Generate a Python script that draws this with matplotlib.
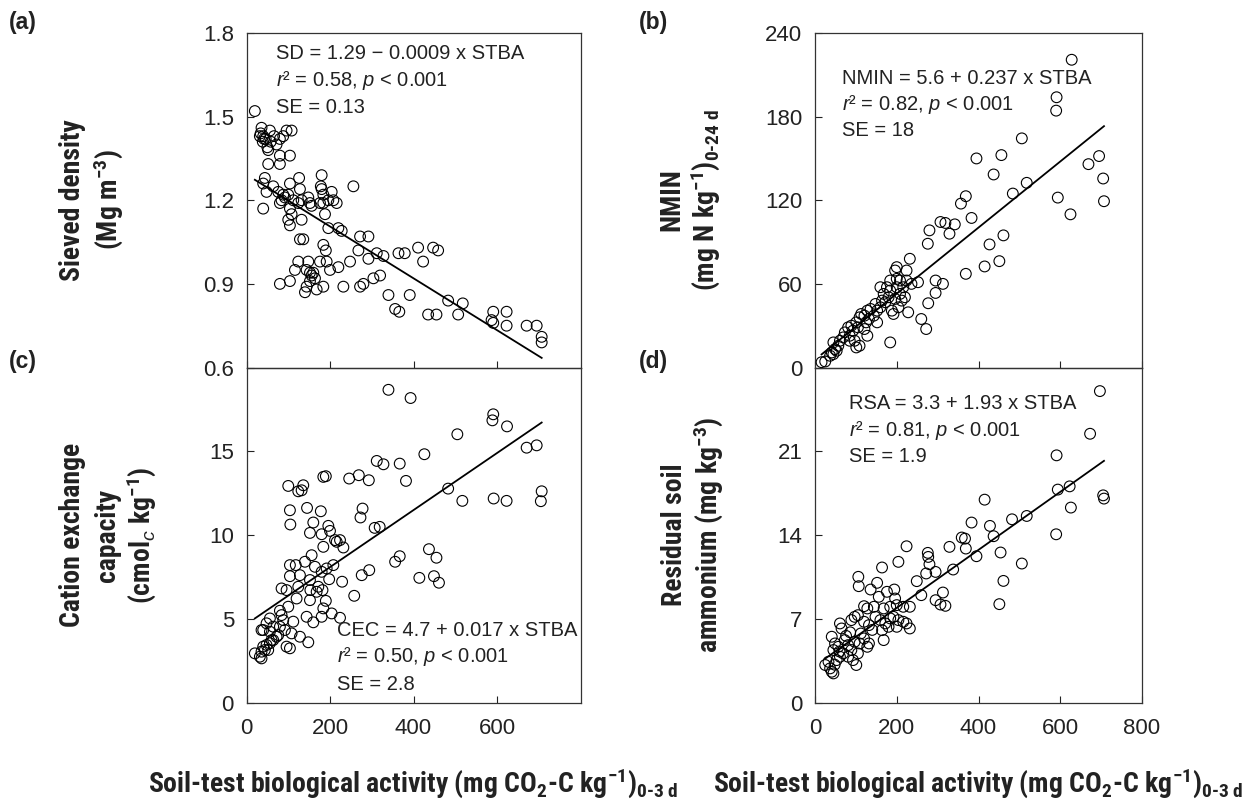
import numpy as np
import matplotlib
matplotlib.use('Agg')
import matplotlib.pyplot as plt
from matplotlib import font_manager as fm

# ---------------- data ----------------
# (a) sieved density vs STBA
sd_x = [20, 36, 56, 108, 96, 40, 32, 42, 39, 88, 80, 72, 52, 80, 104, 80, 52, 44, 180, 126,
        40, 64, 104, 128, 178, 180, 184, 204, 208, 256, 48, 76, 88, 84, 80, 92, 100, 112, 124, 132,
        148, 152, 176, 184, 196, 216, 40, 104, 108, 100, 132, 156, 188, 104, 196, 220, 228, 128, 136, 184,
        190, 272, 292, 268, 292, 312, 328, 364, 379, 411, 447, 459, 423, 124, 148, 176, 192, 116, 144, 152,
        160, 156, 164, 200, 220, 248, 152, 144, 140, 168, 184, 80, 104, 232, 272, 280, 304, 320, 340, 391,
        356, 366, 435, 455, 483, 518, 507, 591, 623, 591, 587, 623, 671, 695, 707, 707,
        46, 58, 34, 50, 66]
sd_y = [1.52, 1.46, 1.45, 1.45, 1.45, 1.43, 1.43, 1.42, 1.41, 1.43, 1.42, 1.40, 1.38, 1.36, 1.36, 1.33, 1.33, 1.28, 1.29, 1.28,
        1.26, 1.25, 1.26, 1.24, 1.25, 1.24, 1.22, 1.23, 1.20, 1.25, 1.23, 1.23, 1.22, 1.20, 1.19, 1.21, 1.22, 1.20, 1.19, 1.20,
        1.21, 1.19, 1.19, 1.19, 1.20, 1.19, 1.17, 1.17, 1.15, 1.13, 1.13, 1.18, 1.15, 1.11, 1.10, 1.10, 1.09, 1.06, 1.06, 1.04,
        1.02, 1.07, 1.07, 1.02, 0.99, 1.01, 1.00, 1.01, 1.01, 1.03, 1.03, 1.02, 0.98, 0.98, 0.98, 0.98, 0.98, 0.95, 0.95, 0.94,
        0.94, 0.93, 0.92, 0.95, 0.96, 0.98, 0.91, 0.89, 0.87, 0.88, 0.89, 0.90, 0.91, 0.89, 0.89, 0.90, 0.92, 0.93, 0.86, 0.86,
        0.81, 0.80, 0.79, 0.79, 0.84, 0.83, 0.79, 0.80, 0.80, 0.76, 0.77, 0.75, 0.75, 0.75, 0.71, 0.69,
        1.42, 1.41, 1.44, 1.39, 1.43]

# (b) NMIN vs STBA
nm_x = [628, 591, 590, 506, 395, 456, 437, 669, 695, 705, 707, 594, 625, 518, 484, 369, 357, 383, 280, 276,
        307, 319, 329, 342, 427, 461, 415, 451, 369, 295, 313, 295, 277, 260, 272, 232, 224, 200, 196, 236,
        252, 184, 25, 37, 41, 45, 49, 53, 57, 45, 61, 69, 73, 81, 89, 85, 93, 101, 105, 109,
        113, 121, 125, 128, 132, 136, 144, 148, 152, 160, 164, 168, 172, 176, 180, 184, 188, 192, 196, 200,
        204, 208, 212, 216, 220, 228, 224, 101, 109, 97, 85, 128, 121, 152, 160, 184, 200, 208, 16]
nm_y = [220.8, 193.9, 184.3, 164.4, 150.0, 152.4, 138.5, 145.9, 151.7, 135.6, 119.3, 121.9, 109.9, 132.5, 124.8, 122.9, 117.6, 107.3, 98.4, 88.8,
        104.4, 103.7, 96.0, 102.7, 88.3, 94.8, 72.5, 76.3, 67.2, 62.4, 60.0, 53.5, 46.1, 34.8, 27.6, 78.0, 69.6, 72.0, 69.6, 60.0,
        61.2, 18.0, 4.3, 8.4, 10.8, 9.6, 13.2, 12.0, 15.6, 18.0, 19.2, 21.6, 25.2, 28.8, 30.0, 22.8, 26.4, 32.4, 28.8, 36.0,
        38.4, 37.2, 32.4, 40.8, 34.8, 42.0, 37.2, 45.6, 40.8, 43.2, 48.0, 52.8, 46.8, 57.6, 50.4, 55.2, 40.8, 38.4, 49.2, 57.6,
        43.2, 52.8, 48.0, 57.6, 50.4, 39.6, 62.4, 14.4, 15.6, 19.2, 19.2, 22.8, 27.6, 32.4, 57.6, 62.4, 63.6, 62.4, 3.8]

# (c) cation exchange capacity vs STBA
cec_x = [340, 393, 591, 589, 624, 505, 671, 695, 426, 312, 328, 367, 382, 184, 190, 246, 269, 293, 100, 136,
         132, 124, 483, 517, 592, 623, 707, 705, 104, 145, 178, 278, 273, 105, 160, 196, 307, 319, 152, 180,
         200, 212, 216, 224, 232, 184, 156, 104, 118, 140, 164, 192, 208, 367, 356, 437, 455, 104, 128, 180,
         198, 229, 276, 294, 414, 449, 461, 84, 96, 124, 153, 168, 182, 258, 120, 152, 190, 80, 100, 84,
         88, 56, 48, 40, 64, 80, 92, 112, 144, 160, 180, 184, 204, 224, 108, 128, 148, 96, 104, 72,
         76, 64, 56, 48, 40, 44, 52, 36, 32, 20, 36, 152, 172, 56, 36, 60]
cec_y = [18.67, 18.18, 17.21, 16.85, 16.49, 16.02, 15.22, 15.36, 14.83, 14.43, 14.23, 14.27, 13.24, 13.48, 13.52, 13.38, 13.58, 13.28, 12.94, 12.98,
         12.68, 12.62, 12.78, 12.05, 12.19, 12.05, 12.62, 12.03, 11.49, 11.63, 11.43, 11.59, 11.06, 10.64, 10.76, 10.56, 10.44, 10.50, 10.14, 10.06,
         10.26, 9.71, 9.61, 9.71, 9.27, 9.31, 8.81, 8.22, 8.22, 8.42, 8.12, 8.02, 8.22, 8.75, 8.42, 9.17, 8.66, 7.56, 7.62, 7.82,
         7.38, 7.23, 7.62, 7.92, 7.46, 7.56, 7.17, 6.83, 6.73, 6.93, 6.73, 6.63, 6.73, 6.39, 6.23, 6.13, 6.09, 5.50, 5.74, 5.24,
         4.94, 5.04, 4.75, 4.35, 4.55, 4.55, 4.35, 4.85, 5.14, 4.81, 5.14, 5.64, 5.34, 5.08, 4.15, 3.95, 3.62, 3.36, 3.26, 3.95,
         4.05, 3.75, 3.56, 3.46, 3.36, 3.16, 3.16, 3.06, 2.76, 2.96, 2.66, 7.33, 6.93, 4.25, 4.35, 3.75]

# (d) residual soil ammonium vs STBA
rsa_x = [697, 673, 591, 594, 623, 626, 705, 707, 415, 383, 428, 437, 482, 518, 590, 359, 367, 369, 395, 329,
         454, 506, 461, 451, 224, 276, 277, 280, 295, 272, 338, 249, 260, 204, 164, 106, 107, 136, 152, 156,
         176, 194, 196, 295, 307, 319, 313, 120, 128, 144, 168, 184, 200, 216, 232, 61, 65, 89, 97, 105,
         120, 132, 148, 160, 172, 184, 192, 204, 216, 224, 232, 200, 180, 164, 168, 41, 49, 45, 57, 73,
         81, 89, 97, 109, 120, 128, 132, 105, 93, 101, 25, 33, 37, 41, 45, 53, 61, 69, 81,
         48, 60, 76, 86, 112, 140]
rsa_y = [26.03, 22.47, 20.67, 17.81, 18.08, 16.31, 17.33, 17.06, 16.97, 15.06, 14.78, 13.92, 15.33, 15.61, 14.08, 13.81, 13.72, 12.89, 12.25, 13.03,
         12.56, 11.64, 10.19, 8.25, 13.08, 12.53, 12.19, 11.58, 10.94, 10.81, 11.14, 10.17, 9.00, 11.78, 11.31, 10.53, 9.75, 9.47, 10.03, 8.86,
         9.28, 9.47, 8.72, 8.58, 8.22, 8.11, 9.22, 8.08, 7.89, 8.03, 7.89, 8.03, 8.17, 8.03, 8.03, 6.64, 6.22, 6.92, 7.19, 7.33,
         6.78, 6.50, 7.19, 6.92, 6.64, 7.06, 7.19, 6.92, 6.78, 6.64, 6.22, 6.36, 6.36, 6.08, 5.25, 5.53, 4.97, 4.42, 4.69, 5.25,
         4.83, 4.42, 5.11, 4.97, 5.39, 4.69, 4.97, 4.14, 3.58, 3.17, 3.17, 3.44, 2.89, 2.61, 2.47, 3.58, 3.86, 4.14, 3.86,
         3.20, 4.30, 5.60, 5.90, 5.80, 6.10]

# regression lines (intercept, slope) as drawn
sd_fit = (1.292, -0.00093)
nm_fit = (5.6, 0.237)
cec_fit = (4.7, 0.017)
rsa_fit = (3.1, 0.0242)

# annotation texts
sd_txt = ['SD = 1.29 − 0.0009 x STBA', r'$\mathit{r}$² = 0.58, $\mathit{p}$ < 0.001', 'SE = 0.13']
nm_txt = ['NMIN = 5.6 + 0.237 x STBA', r'$\mathit{r}$² = 0.82, $\mathit{p}$ < 0.001', 'SE = 18']
cec_txt = ['CEC = 4.7 + 0.017 x STBA', r'$\mathit{r}$² = 0.50, $\mathit{p}$ < 0.001', 'SE = 2.8']
rsa_txt = ['RSA = 3.3 + 1.93 x STBA', r'$\mathit{r}$² = 0.81, $\mathit{p}$ < 0.001', 'SE = 1.9']

sd_ticks = [0.6, 0.9, 1.2, 1.5, 1.8]
sd_ticklabels = ['0.6', '0.9', '1.2', '1.5', '1.8']
nm_ticks = [0, 60, 120, 180, 240]
cec_ticks = [0, 5, 10, 15]
rsa_ticks = [0, 7, 14, 21]
x_ticks_left = [0, 200, 400, 600]
x_ticks_right = [0, 200, 400, 600, 800]

# ---------------- fonts ----------------
names = {f.name for f in fm.fontManager.ttflist}
def pick(cands):
    for c in cands:
        if c in names:
            return c
    return 'DejaVu Sans'
COND = pick(['Liberation Sans Narrow', 'Roboto Condensed', 'Open Sans Condensed'])
NARROW = COND != 'DejaVu Sans'
if not NARROW:
    COND = pick(['Liberation Sans'])
REG = pick(['Liberation Sans', 'Open Sans'])
BOLD_SIZE = 20 if NARROW else 16

plt.rcParams['font.family'] = [REG, 'DejaVu Sans']
plt.rcParams['mathtext.fontset'] = 'custom'
plt.rcParams['mathtext.rm'] = f'{COND}:bold'
plt.rcParams['mathtext.bf'] = f'{COND}:bold'
plt.rcParams['mathtext.it'] = f'{REG}:italic'

W, H = 1258, 807
fig = plt.figure(figsize=(W / 100, H / 100), dpi=100)

def rect(l, t, r, b):
    return [l / W, 1 - b / H, (r - l) / W, (b - t) / H]

L1, R1 = 246.5, 580.5
L2, R2 = 815, 1142
T, M, B = 33, 367.5, 703

ax_a = fig.add_axes(rect(L1, T, R1, M))
ax_c = fig.add_axes(rect(L1, M, R1, B))
ax_b = fig.add_axes(rect(L2, T, R2, M))
ax_d = fig.add_axes(rect(L2, M, R2, B))

panels = [
    (ax_a, sd_x, sd_y, sd_fit, (0.6, 1.8), sd_ticks, sd_ticklabels, x_ticks_left, False, sd_txt, 0.088, [53.3, 80.5, 107.3], True),
    (ax_b, nm_x, nm_y, nm_fit, (0, 240), nm_ticks, [str(t) for t in nm_ticks], x_ticks_right, False, nm_txt, 0.082, [78.3, 104.8, 130.5], True),
    (ax_c, cec_x, cec_y, cec_fit, (0, 20), cec_ticks, [str(t) for t in cec_ticks], x_ticks_left, True, cec_txt, 0.27, [630.0, 657.0, 684.0], False),
    (ax_d, rsa_x, rsa_y, rsa_fit, (0, 28), rsa_ticks, [str(t) for t in rsa_ticks], x_ticks_right, True, rsa_txt, 0.104, [403.3, 430.0, 456.7], False),
]

for ax, xs, ys, fit, ylim, yt, ytl, xt, xlab, txt, tx, tys, top in panels:
    xs = np.asarray(xs, float)
    ys = np.asarray(ys, float)
    ax.scatter(xs, ys, s=60, facecolors='none', edgecolors='black', linewidths=0.8, clip_on=False, zorder=3)
    lx = np.array([xs.min(), xs.max()])
    ax.plot(lx, fit[0] + fit[1] * lx, color='black', lw=1.3, zorder=2)
    ax.set_xlim(0, 800)
    ax.set_ylim(*ylim)
    ax.set_yticks(yt)
    ax.set_yticklabels(ytl)
    ax.set_xticks(xt)
    if xlab:
        ax.set_xticklabels([str(v) for v in xt])
    else:
        ax.set_xticklabels([])
    ax.tick_params(axis='both', direction='in', length=5, width=0.8, labelsize=16, colors='#222222')
    ax.tick_params(axis='y', pad=9)
    ax.tick_params(axis='x', pad=11)
    for sp in ax.spines.values():
        sp.set_linewidth(0.9)
        sp.set_color('#333333')
    ax.set_facecolor('none')
    for line, py in zip(txt, tys):
        if top:
            fy = (M - py) / (M - T)
        else:
            fy = (B - py) / (B - M)
        ax.text(tx, fy, line, transform=ax.transAxes, ha='left', va='center', fontsize=14.5, color='#222222')

def ftext(px, py, s, **kw):
    fig.text(px / W, 1 - py / H, s, **kw)

lab = dict(fontfamily=COND, fontweight='bold', fontsize=BOLD_SIZE, color='#222222')
for px, py, s in [(9, 23, '(a)'), (639, 23, '(b)'), (9, 362, '(c)'), (639, 362, '(d)')]:
    ftext(px, py, s, ha='left', va='center', fontsize=16.5, fontweight='bold', color='#222222')

ylabels = [
    (73, 200, 'Sieved density'), (108, 200, r'(Mg m$^{-3}$)'),
    (73, 535, 'Cation exchange'), (107, 535, 'capacity'), (141, 535, r'(cmol$_{c}$ kg$^{-1}$)'),
    (672, 200, 'NMIN'), (705, 200, r'(mg N kg$^{-1}$)$_{\text{0-24 d}}$'),
    (675, 535, 'Residual soil'), (708, 535, r'ammonium (mg kg$^{-3}$)'),
]
for px, py, s in ylabels:
    ftext(px, py, s, rotation=90, ha='center', va='center', **lab)

xlabel = r'Soil-test biological activity (mg CO$_{2}$-C kg$^{-1}$)$_{\text{0-3 d}}$'
ftext((L1 + R1) / 2, 792, xlabel, ha='center', va='baseline', **lab)
ftext((L2 + R2) / 2, 792, xlabel, ha='center', va='baseline', **lab)

fig.savefig('out.png', dpi=100)
